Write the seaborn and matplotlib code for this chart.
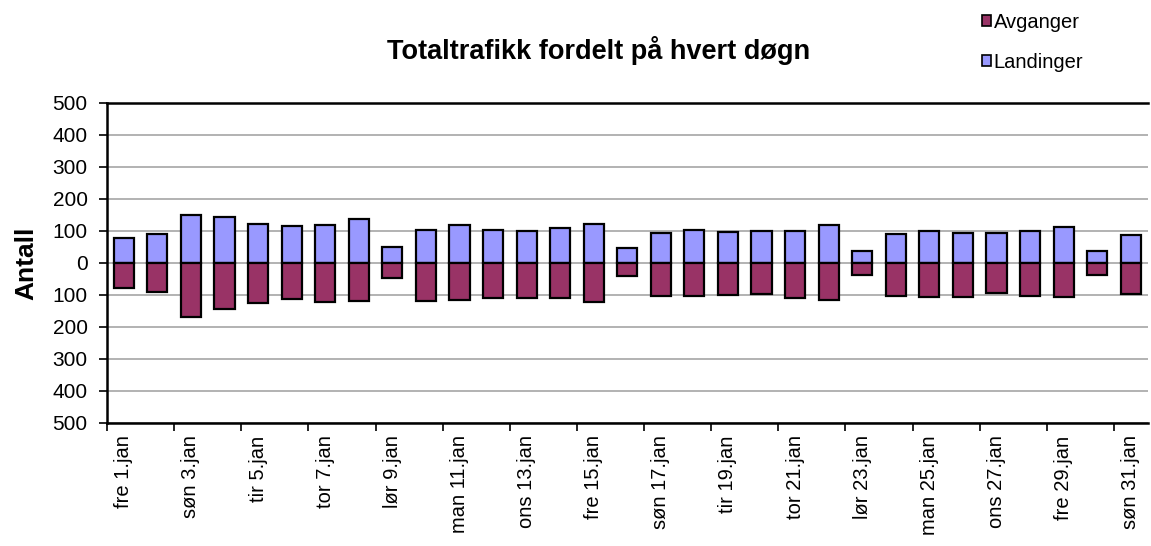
import pandas as pd
import matplotlib
matplotlib.use("Agg")
import matplotlib.pyplot as plt
from matplotlib.ticker import FixedLocator, FuncFormatter
from matplotlib.patches import Patch
import seaborn as sns

# --- data ---------------------------------------------------------------
days = ["fre", "lør", "søn", "man", "tir", "ons", "tor"]
dates = [f"{days[(i - 1) % 7]} {i}.jan" for i in range(1, 32)]

landinger = [79, 90, 150, 143, 122, 114, 118, 137, 51, 104,
             118, 104, 100, 108, 122, 46, 93, 104, 96, 100,
             100, 118, 39, 90, 100, 94, 94, 100, 112, 39, 87]
avganger = [77, 90, 169, 143, 126, 111, 122, 118, 47, 118,
            115, 108, 108, 108, 122, 40, 104, 104, 101, 96,
            108, 116, 37, 102, 105, 105, 94, 102, 105, 37, 98]

farger = {"Avganger": "#993366", "Landinger": "#9999FF"}

df = pd.DataFrame({
    "dato": dates * 2,
    "antall": landinger + [-v for v in avganger],
    "serie": ["Landinger"] * 31 + ["Avganger"] * 31,
})

# --- figur --------------------------------------------------------------
sns.set_style("white")
plt.rcParams["font.family"] = ["Liberation Sans", "DejaVu Sans"]
plt.rcParams["text.color"] = "black"
plt.rcParams["xtick.color"] = "black"
plt.rcParams["ytick.color"] = "black"

fig = plt.figure(figsize=(11.51, 5.46), dpi=100)
ax = fig.add_axes([0.093, 0.2253, 0.904, 0.5861])

sns.barplot(data=df, x="dato", y="antall", hue="serie", palette=farger,
            dodge=False, width=0.6, saturation=1, edgecolor="black",
            linewidth=1.6, legend=False, ax=ax, zorder=3)

ax.set_ylim(-500, 500)
ax.set_xlim(-0.5, 30.5)
ax.yaxis.set_major_locator(FixedLocator(range(-500, 501, 100)))
ax.yaxis.set_major_formatter(FuncFormatter(lambda v, p: f"{abs(int(v))}"))
ax.grid(axis="y", color="#a6a6a6", linewidth=1.2, zorder=0)

# kategorigrenser som tick-streker, etiketter på annenhver dag
ax.xaxis.set_major_locator(FixedLocator([i - 0.5 for i in range(0, 31, 2)]))
ax.xaxis.set_major_formatter(FuncFormatter(lambda v, p: ""))
ax.xaxis.set_minor_locator(FixedLocator(list(range(0, 31, 2))))
ax.set_xticklabels([dates[i] for i in range(0, 31, 2)], minor=True)
ax.tick_params(axis="x", which="major", direction="out", length=6,
               width=1.2, color="black", bottom=True)
ax.tick_params(axis="x", which="minor", length=0, labelsize=14.5,
               labelrotation=90, pad=9)
ax.tick_params(axis="y", direction="out", length=6, width=1.2,
               color="black", left=True, labelsize=15, pad=8)

for side in ["left", "bottom", "top"]:
    ax.spines[side].set_color("black")
    ax.spines[side].set_linewidth(1.8)
ax.spines["right"].set_visible(False)

ax.set_xlabel("")
ax.set_ylabel("")
fig.text(0.023, 0.518, "Antall", rotation=90, ha="center", va="center",
         fontsize=19, fontweight="bold")
fig.text(0.52, 0.908, "Totaltrafikk fordelt på hvert døgn",
         ha="center", va="center", fontsize=19.5, fontweight="bold")

handles = [Patch(facecolor=farger[k], edgecolor="black", linewidth=1.2)
           for k in ["Avganger", "Landinger"]]
fig.legend(handles, ["Avganger", "Landinger"], loc="upper left",
           bbox_to_anchor=(0.837, 1.01), frameon=False, fontsize=14.5,
           handlelength=0.45, handleheight=0.45, handletextpad=0.15,
           labelspacing=1.05)

fig.savefig("out.png", dpi=100)
